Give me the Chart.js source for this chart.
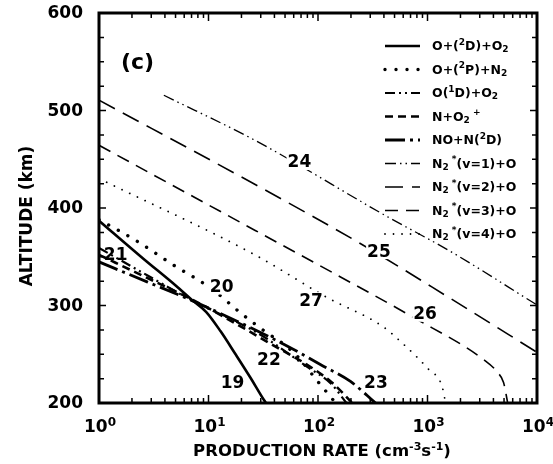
<!DOCTYPE html>
<html><head><meta charset="utf-8">
<script src="https://cdn.jsdelivr.net/npm/chart.js@4"></script>
<style>html,body{margin:0;padding:0;background:#fff}#wrap{width:553px;height:464px}</style>
</head><body><div id="wrap"><canvas id="c" width="553" height="464"></canvas></div>
<script>
// ---- data (production rate cm^-3 s^-1 vs altitude km) ----
const o2dRate = [1, 2.51, 5.01, 7.26, 9.5, 12.9, 17.6, 24.1, 32.1, 33.5];
const o2dAlt  = [387, 348.5, 320.5, 304.5, 293.5, 273.5, 250.2, 226.1, 203, 200];
const o2pRate = [1, 2.15, 4.71, 10.7, 19.6, 29.6, 61, 98, 145];
const o2pAlt  = [388, 367, 342, 317, 292.5, 277, 251, 223, 200];
const o1dRate = [1, 2.75, 7.26, 28.4, 79.7, 131, 182];
const o1dAlt  = [359, 331, 304.5, 271.5, 237, 220, 200];
const no2Rate = [1, 2.75, 7.26, 46.6, 79.7, 134, 206];
const no2Alt  = [352, 328.3, 305.5, 254.3, 239.2, 221, 200];
const nonRate = [1, 2.75, 7.26, 52.7, 106, 198, 335];
const nonAlt  = [344.7, 324.2, 304.5, 258.3, 239.2, 222.1, 200];
const v1Rate = [3.91, 26.7, 416, 1660, 10000];
const v1Alt  = [515.6, 469.3, 392, 354.8, 300.5];
const v2Rate = [1, 26.7, 259, 1660, 10000];
const v2Alt  = [510.6, 424.1, 361.8, 306.5, 252];
const v3Rate = [1, 26.7, 131, 726, 3280, 4380, 4950, 5380];
const v3Alt  = [464.3, 377, 334.7, 288.4, 244.2, 231.2, 221.1, 201];
const v4Rate = [1, 26.7, 120, 391, 590, 1030, 1350, 1465];
const v4Alt  = [430.2, 351.8, 308.5, 278.4, 261.3, 234.2, 218.1, 200];

const seriesLabels = ['O+(²D)+O₂','O+(²P)+N₂','O(¹D)+O₂','N+O₂⁺','NO+N(²D)',
  'N₂*(v=1)+O','N₂*(v=2)+O','N₂*(v=3)+O','N₂*(v=4)+O'];
const legendRich = [
  [['O+(',''],['2','sup'],['D)+O',''],['2','sub']],
  [['O+(',''],['2','sup'],['P)+N',''],['2','sub']],
  [['O(',''],['1','sup'],['D)+O',''],['2','sub']],
  [['N+O',''],['2','sub'],[' +','sup']],
  [['NO+N(',''],['2','sup'],['D)','']],
  [['N',''],['2','sub'],[' *','sup'],['(v=1)+O','']],
  [['N',''],['2','sub'],[' *','sup'],['(v=2)+O','']],
  [['N',''],['2','sub'],[' *','sup'],['(v=3)+O','']],
  [['N',''],['2','sub'],[' *','sup'],['(v=4)+O','']]
];
const curveNumbers = ['19','20','21','22','23','24','25','26','27'];
const yTickValues = [200, 300, 400, 500, 600];
const xTickExponents = [0, 1, 2, 3, 4];
const xTitle = [['PRODUCTION RATE (cm',''],['-3','sup'],['s',''],['-1','sup'],[')','']];
const yTitle = 'ALTITUDE (km)';
const panelTag = '(c)';

function pts(r, a){ return r.map((v,i)=>({x:v, y:a[i]})); }
const rates = [o2dRate,o2pRate,o1dRate,no2Rate,nonRate,v1Rate,v2Rate,v3Rate,v4Rate];
const alts  = [o2dAlt,o2pAlt,o1dAlt,no2Alt,nonAlt,v1Alt,v2Alt,v3Alt,v4Alt];
const dsStyle = [
  {w:2.6, dash:[], cap:'butt'},
  {w:3.4, dash:[0.01,11], cap:'round'},
  {w:2.2, dash:[10,4,2,4,2,4], cap:'butt'},
  {w:2.6, dash:[8,5], cap:'butt'},
  {w:2.8, dash:[20,5,3,5], cap:'butt'},
  {w:1.3, dash:[11,4,1.5,4,1.5,4], cap:'butt'},
  {w:1.6, dash:[18,9], cap:'butt'},
  {w:1.6, dash:[13,8], cap:'butt'},
  {w:1.8, dash:[0.01,8.5], cap:'round'}
];
// label positions in data coords (rate, altitude)
const numRate = [16.6, 13.2, 1.42, 35.6, 338, 67.6, 360, 950, 86.5];
const numAlt  = [221, 319.5, 352, 244.2, 221, 447.2, 355.8, 291.5, 305.5];
const numBg   = [false, true, false, false, false, true, true, true, true];

const FONT = '"DejaVu Sans", sans-serif';

function richWidth(ctx, segs, size){
  let w=0;
  for(const [t,k] of segs){ ctx.font='bold '+(k?Math.round(size*0.68):size)+'px '+FONT; w+=ctx.measureText(t).width; }
  return w;
}
function drawRich(ctx, segs, x, y, size){
  for(const [t,k] of segs){
    const s = k?Math.round(size*0.68):size;
    ctx.font='bold '+s+'px '+FONT;
    const dy = k==='sup' ? -size*0.38 : (k==='sub' ? size*0.22 : 0);
    ctx.fillText(t, x, y+dy);
    x += ctx.measureText(t).width;
  }
}

const frame = {
  id:'frame',
  afterDatasetsDraw(chart){
    const ctx = chart.ctx, a = chart.chartArea;
    const xs = chart.scales.x, ys = chart.scales.y;
    ctx.save();
    ctx.fillStyle='#000'; ctx.strokeStyle='#000';
    // curve numbers
    ctx.textAlign='center'; ctx.textBaseline='middle';
    ctx.font='bold 17px '+FONT;
    curveNumbers.forEach((t,i)=>{
      const px = xs.getPixelForValue(numRate[i]), py = ys.getPixelForValue(numAlt[i]);
      if(numBg[i]){ const w=ctx.measureText(t).width; ctx.fillStyle='#fff'; ctx.fillRect(px-w/2-1,py-8,w+2,16); ctx.fillStyle='#000'; }
      ctx.fillText(t, px, py+1);
    });
    // panel tag
    ctx.font='bold 22px '+FONT;
    ctx.fillText(panelTag, 137.5, 63);
    // legend
    const lx0 = 385, lx1 = 420, tx = 432;
    chart.data.datasets.forEach((ds,i)=>{
      const y = 46 + i*23.5;
      ctx.save();
      ctx.lineWidth = ds.borderWidth; ctx.setLineDash(ds.borderDash); ctx.lineCap = ds.borderCapStyle;
      ctx.beginPath(); ctx.moveTo(lx0,y); ctx.lineTo(lx1,y); ctx.stroke();
      ctx.restore();
      ctx.textAlign='left'; ctx.textBaseline='middle';
      drawRich(ctx, legendRich[i], tx, y+1, 12.5);
    });
    // frame
    ctx.setLineDash([]);
    ctx.lineWidth=3;
    ctx.strokeRect(a.left, a.top, a.right-a.left, a.bottom-a.top);
    // ticks (inward)
    ctx.lineWidth=1.5;
    ctx.beginPath();
    xTickExponents.forEach(e=>{
      if(e>=4) return;
      for(let k=1;k<=9;k++){
        const v = k*Math.pow(10,e);
        const px = xs.getPixelForValue(v);
        const L = k===1?8:5;
        ctx.moveTo(px,a.bottom); ctx.lineTo(px,a.bottom-L);
        ctx.moveTo(px,a.top); ctx.lineTo(px,a.top+L);
      }
    });
    for(let v=225; v<600; v+=25){
      const py = ys.getPixelForValue(v);
      const L = v%100===0?7:5;
      ctx.moveTo(a.left,py); ctx.lineTo(a.left+L,py);
      ctx.moveTo(a.right,py); ctx.lineTo(a.right-L,py);
    }
    ctx.stroke();
    // y tick labels
    ctx.font='bold 17px '+FONT;
    ctx.textAlign='right'; ctx.textBaseline='middle';
    yTickValues.forEach(v=>{ ctx.fillText(String(v), 83, ys.getPixelForValue(v)+1); });
    // x tick labels
    ctx.textAlign='left'; ctx.textBaseline='alphabetic';
    xTickExponents.forEach(e=>{
      const segs=[['10',''],[String(e),'sup']];
      const w = richWidth(ctx, segs, 17);
      const px = xs.getPixelForValue(Math.pow(10,e));
      drawRich(ctx, segs, px-w/2+1, 432, 17);
    });
    // x title
    const tw = richWidth(ctx, xTitle, 16.5);
    drawRich(ctx, xTitle, 322-tw/2, 456, 16.5);
    // y title
    ctx.save();
    ctx.translate(28, 216); ctx.rotate(-Math.PI/2);
    ctx.textAlign='center'; ctx.textBaseline='middle';
    ctx.font='bold 17px '+FONT;
    ctx.fillText(yTitle, 0, 0);
    ctx.restore();
    ctx.restore();
  }
};

new Chart(document.getElementById('c'), {
  type:'line',
  data:{ datasets: rates.map((r,i)=>({
    label: seriesLabels[i], data: pts(r, alts[i]),
    borderColor:'#000', backgroundColor:'#000',
    borderWidth: dsStyle[i].w, borderDash: dsStyle[i].dash, borderCapStyle: dsStyle[i].cap,
    pointRadius:0, fill:false, cubicInterpolationMode:'monotone'
  }))},
  options:{
    responsive:false, animation:false, events:[],
    layout:{ padding:{ left:91, right:16, top:13, bottom:53 } },
    plugins:{ legend:{display:false}, tooltip:{enabled:false} },
    scales:{
      x:{ type:'logarithmic', min:1, max:10000, ticks:{display:false}, grid:{display:false}, border:{display:false} },
      y:{ type:'linear', min:200, max:600, ticks:{display:false, stepSize:100}, grid:{display:false}, border:{display:false} }
    }
  },
  plugins:[frame]
});
</script>
</body></html>
